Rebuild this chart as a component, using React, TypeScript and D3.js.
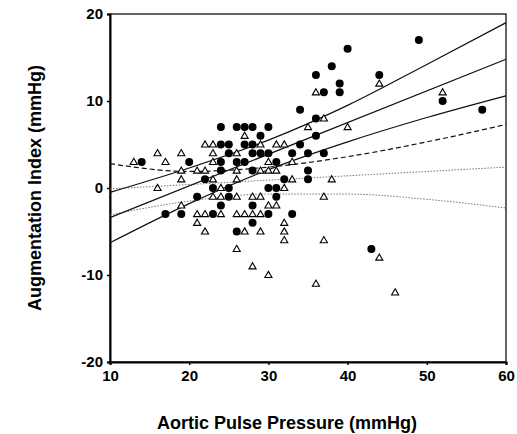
import React, { useEffect, useRef } from 'react';
import * as d3 from 'd3';

const xTicks = [10, 20, 30, 40, 50, 60];
const yTicks = [-20, -10, 0, 10, 20];

// filled circles [pulse pressure, augmentation index]
const circlePoints: [number, number][] = [
  [49, 17], [40, 16], [38, 14], [36, 13], [44, 13], [39, 12], [37, 11], [39, 11],
  [52, 10], [34, 9], [57, 9], [36, 8],
  [24, 7], [26, 7], [27, 7], [28, 7], [30, 7], [29, 6], [36, 6],
  [24, 5], [25, 5], [27, 5], [28, 5], [34, 5],
  [25, 4], [28, 4], [29, 4], [30, 4], [33, 4], [35, 4], [37, 4],
  [14, 3], [20, 3], [24, 3], [26, 3], [27, 3], [31, 3],
  [24, 2], [28, 2], [35, 2],
  [22, 1], [32, 1], [35, 1],
  [23, 0], [25, 0], [30, 0], [31, 0],
  [21, -1], [25, -1], [31, -1],
  [24, -2], [28, -2],
  [17, -3], [19, -3], [23, -3], [30, -3], [33, -3],
  [28, -4], [26, -5], [43, -7],
];

// open triangles
const trianglePoints: [number, number][] = [
  [44, 12], [36, 11], [52, 11], [37, 8], [35, 7], [40, 7], [27, 6],
  [22, 5], [23, 5], [29, 5], [31, 5], [32, 5],
  [16, 4], [19, 4], [23, 4], [26, 4],
  [13, 3], [17, 3], [23, 3], [30, 3], [33, 3],
  [19, 2], [21, 2], [22, 2], [26, 2], [29, 2], [30, 2], [31, 2],
  [19, 1], [23, 1], [26, 1], [33, 1], [38, 1],
  [16, 0], [24, 0], [32, 0],
  [23, -1], [24, -1], [26, -1], [28, -1], [29, -1], [37, -1],
  [19, -2], [30, -2], [31, -2],
  [21, -3], [22, -3], [24, -3], [26, -3], [27, -3], [28, -3], [29, -3],
  [21, -4], [32, -4],
  [22, -5], [27, -5], [29, -5], [32, -5],
  [32, -6], [37, -6], [26, -7], [44, -8], [28, -9], [30, -10], [36, -11], [46, -12],
];

// regression lines and confidence bands
const circleFit: [number, number][] = [[10, -3.4], [60, 14.8]];
const circleUpper: [number, number][] = [[10, -0.5], [20, 2.3], [30, 5.5], [40, 9.5], [50, 14.2], [60, 19]];
const circleLower: [number, number][] = [[10, -6.3], [20, -1.8], [30, 2.1], [40, 5.3], [50, 8.1], [60, 10.6]];
const triangleFit: [number, number][] = [[10, -0.1], [60, 2.4]];
const triangleUpper: [number, number][] = [[10, 2.8], [20, 1.9], [30, 2.4], [40, 3.6], [50, 5.3], [60, 7.3]];
const triangleLower: [number, number][] = [[10, -3.1], [20, -1.5], [30, -0.7], [40, -0.7], [50, -1.3], [60, -2.3]];

const W = 517;
const H = 434;
const font = 'Arial, "Liberation Sans", sans-serif';

export default function App() {
  const svgRef = useRef<SVGSVGElement>(null);

  useEffect(() => {
    const svg = d3.select(svgRef.current);
    svg.selectAll('*').remove();

    const x = d3.scaleLinear().domain([10, 60]).range([110, 506]);
    const y = d3.scaleLinear().domain([-20, 20]).range([362, 14]);

    // frame
    svg.append('rect')
      .attr('x', x(10)).attr('y', y(20))
      .attr('width', x(60) - x(10)).attr('height', y(-20) - y(20))
      .attr('fill', 'none').attr('stroke', '#111').attr('stroke-width', 1.3);

    const xAxis = svg.append('g')
      .attr('transform', `translate(0,${y(-20)})`)
      .call(d3.axisBottom(x).tickValues(xTicks).tickSize(3).tickPadding(5).tickFormat(d => String(d)));
    const yAxis = svg.append('g')
      .attr('transform', `translate(${x(10)},0)`)
      .call(d3.axisLeft(y).tickValues(yTicks).tickSize(3).tickPadding(4).tickFormat(d => String(d)));

    [xAxis, yAxis].forEach(g => {
      g.select('.domain').attr('stroke', '#000').attr('stroke-width', 2);
      g.selectAll('.tick line').attr('stroke', '#000').attr('stroke-width', 1.5);
      g.selectAll('.tick text')
        .attr('font-family', font)
        .attr('font-size', 15)
        .attr('font-weight', 'bold')
        .attr('fill', '#000');
    });

    const line = d3.line<[number, number]>()
      .x(d => x(d[0]))
      .y(d => y(d[1]))
      .curve(d3.curveMonotoneX);

    const lines = [
      { data: triangleLower, stroke: '#777', width: 1, dash: '1.5,1.5' },
      { data: triangleFit, stroke: '#777', width: 1, dash: '1.5,1.5' },
      { data: triangleUpper, stroke: '#111', width: 1.2, dash: '5,3' },
      { data: circleLower, stroke: '#111', width: 1.2, dash: null },
      { data: circleFit, stroke: '#111', width: 1.2, dash: null },
      { data: circleUpper, stroke: '#111', width: 1.2, dash: null },
    ];

    svg.selectAll('.fit')
      .data(lines)
      .join('path')
      .attr('class', 'fit')
      .attr('d', d => line(d.data))
      .attr('fill', 'none')
      .attr('stroke', d => d.stroke)
      .attr('stroke-width', d => d.width)
      .attr('stroke-dasharray', d => d.dash);

    svg.selectAll('.tri')
      .data(trianglePoints)
      .join('path')
      .attr('class', 'tri')
      .attr('transform', d => `translate(${x(d[0])},${y(d[1]) + 0.5})`)
      .attr('d', d3.symbol(d3.symbolTriangle, 22)())
      .attr('fill', '#fff')
      .attr('stroke', '#000')
      .attr('stroke-width', 1.1);

    svg.selectAll('.dot')
      .data(circlePoints)
      .join('circle')
      .attr('class', 'dot')
      .attr('cx', d => x(d[0]))
      .attr('cy', d => y(d[1]))
      .attr('r', 4)
      .attr('fill', '#000');

    svg.append('text')
      .attr('x', 287).attr('y', 429)
      .attr('text-anchor', 'middle')
      .attr('font-family', font).attr('font-size', 18).attr('font-weight', 'bold')
      .text('Aortic Pulse Pressure (mmHg)');

    svg.append('text')
      .attr('transform', `translate(41,${y(0)}) rotate(-90)`)
      .attr('text-anchor', 'middle')
      .attr('font-family', font).attr('font-size', 18).attr('font-weight', 'bold')
      .text('Augmentation Index (mmHg)');
  }, []);

  return (
    <svg
      ref={svgRef}
      width={W}
      height={H}
      style={{ position: 'absolute', left: 0, top: 0, background: '#fff' }}
    />
  );
}
